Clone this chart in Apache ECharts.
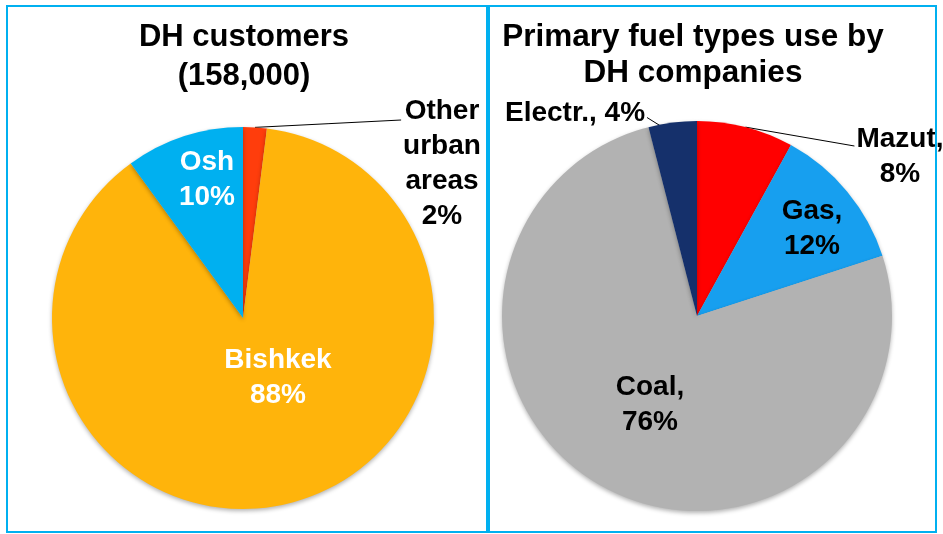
<!DOCTYPE html>
<html>
<head>
<meta charset="utf-8">
<script src="https://cdn.jsdelivr.net/npm/echarts@6/dist/echarts.min.js"></script>
<style>html,body{margin:0;padding:0;background:#fff;}#c{width:943px;height:534px;}</style>
</head>
<body>
<div id="c"></div>
<script>
// ---- data ----
const custTitle = 'DH customers\n(158,000)';
const custNames = ['Other\nurban\nareas', 'Bishkek', 'Osh'];
const custValues = [2, 88, 10];
const fuelTitle = 'Primary fuel types use by\nDH companies';
const fuelNames = ['Mazut', 'Gas', 'Coal', 'Electr.'];
const fuelValues = [8, 12, 76, 4];

// ---- styles / layout ----
const FONT = '"Liberation Sans", Arial, sans-serif';
const custColors = ['#FF3D0C', '#FFB40B', '#00B0F0'];
const fuelColors = ['#FF0000', '#179FEF', '#B2B2B2', '#15306B'];
const custCenter = [243, 318], custRadius = 191;
const fuelCenter = [697, 316], fuelRadius = 195;
const custLabelPos = [[442, 164], [278, 378], [207, 180]];
const custInside = [false, true, true];
// where the leader line meets the label: side, offset from label top, and how far it reaches into the slice
const custLeader = [{ side: 'left', dy: 26, inset: 0 }, null, null];
const fuelLabelPos = [[900, 157], [812, 229], [650, 405], [575, 113]];
const fuelInside = [false, true, true, false];
const fuelInline = [false, false, false, true];
const fuelLeader = [{ side: 'left', dy: 24, inset: 0 }, null, null, { side: 'right', dy: 22, inset: 12 }];

function makeData(names, values, colors, inside, textColors) {
  return names.map((n, i) => ({
    name: n,
    value: values[i],
    itemStyle: { color: colors[i] },
    label: { position: inside[i] ? 'inside' : 'outside', color: textColors[i] },
    labelLine: { show: !inside[i], length: 10, length2: 10, lineStyle: { color: '#000', width: 1 } }
  }));
}

function makeLayout(posArr, leaderArr, center) {
  return function (p) {
    const pos = posArr[p.dataIndex];
    const res = { x: pos[0], y: pos[1], align: 'center', verticalAlign: 'middle' };
    const ld = leaderArr[p.dataIndex];
    if (ld && p.labelLinePoints) {
      const w = p.labelRect.width, h = p.labelRect.height;
      const left = pos[0] - w / 2, top = pos[1] - h / 2;
      const edge = p.labelLinePoints[0];
      const dx = edge[0] - center[0], dy = edge[1] - center[1];
      const len = Math.sqrt(dx * dx + dy * dy) || 1;
      const start = [edge[0] - dx / len * ld.inset, edge[1] - dy / len * ld.inset];
      const end = [ld.side === 'left' ? left - 2 : left + w + 2, top + ld.dy];
      const mid = [(start[0] + end[0]) / 2, (start[1] + end[1]) / 2];
      res.labelLinePoints = [start, mid, end];
    }
    return res;
  };
}

const chart = echarts.init(document.getElementById('c'), null, { renderer: 'canvas', width: 943, height: 534 });

const labelBase = { fontFamily: FONT, fontWeight: 'bold', fontSize: 28, lineHeight: 35 };
const itemShadow = { shadowBlur: 4, shadowOffsetY: 2, shadowColor: 'rgba(0,0,0,0.3)' };

chart.setOption({
  backgroundColor: '#fff',
  animation: false,
  title: [
    { text: custTitle, left: 244, top: 18, textAlign: 'center', padding: 0,
      textStyle: { fontFamily: FONT, fontWeight: 'bold', fontSize: 31, lineHeight: 39, color: '#000' } },
    { text: fuelTitle, left: 693, top: 19, textAlign: 'center', padding: 0,
      textStyle: { fontFamily: FONT, fontWeight: 'bold', fontSize: 31.5, lineHeight: 36, color: '#000' } }
  ],
  series: [
    {
      type: 'pie', center: custCenter, radius: custRadius, startAngle: 90, clockwise: true,
      avoidLabelOverlap: false,
      itemStyle: itemShadow,
      label: Object.assign({ formatter: p => p.name + '\n' + p.value + '%' }, labelBase),
      labelLayout: makeLayout(custLabelPos, custLeader, custCenter),
      data: makeData(custNames, custValues, custColors, custInside, ['#000', '#fff', '#fff'])
    },
    {
      type: 'pie', center: fuelCenter, radius: fuelRadius, startAngle: 90, clockwise: true,
      avoidLabelOverlap: false,
      itemStyle: itemShadow,
      label: Object.assign({ formatter: p => p.name + ',' + (fuelInline[p.dataIndex] ? ' ' : '\n') + p.value + '%' }, labelBase),
      labelLayout: makeLayout(fuelLabelPos, fuelLeader, fuelCenter),
      data: makeData(fuelNames, fuelValues, fuelColors, fuelInside, ['#000', '#000', '#000', '#000'])
    }
  ],
  graphic: [
    { type: 'rect', z: 100, shape: { x: 7, y: 6, width: 480, height: 526 }, style: { fill: null, stroke: '#00B0F0', lineWidth: 2 } },
    { type: 'rect', z: 100, shape: { x: 489, y: 6, width: 447, height: 526 }, style: { fill: null, stroke: '#00B0F0', lineWidth: 2 } }
  ]
});
</script>
</body>
</html>
